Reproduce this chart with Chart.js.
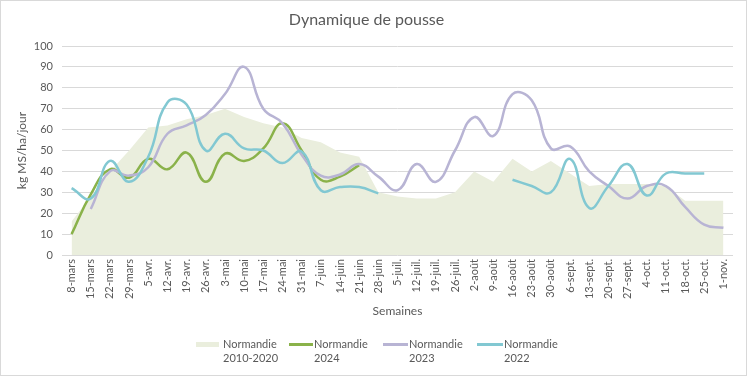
<!DOCTYPE html>
<html><head><meta charset="utf-8">
<script src="https://cdn.jsdelivr.net/npm/chart.js@4"></script>
<style>
html,body{margin:0;padding:0;background:#fff;}
#wrap{position:relative;width:747px;height:376px;overflow:hidden;font-family:Lato,"Open Sans",sans-serif;background:#fff;}
#c{position:absolute;left:0;top:0;}
#frame{position:absolute;left:0;top:0;width:747px;height:376px;box-sizing:border-box;border:1px solid #d9d9d9;pointer-events:none;}
.sw{position:absolute;}
.txt{position:absolute;top:337px;line-height:14px;font-size:11px;color:#595959;white-space:nowrap;}
</style></head>
<body>
<div id="wrap">
<canvas id="c" width="747" height="376"></canvas>
<div id="legend"></div>
<div id="frame"></div>
</div>
<script>
const categories = ['8-mars','15-mars','22-mars','29-mars','5-avr.','12-avr.','19-avr.','26-avr.','3-mai','10-mai','17-mai','24-mai','31-mai','7-juin','14-juin','21-juin','28-juin','5-juil.','12-juil.','19-juil.','26-juil.','2-août','9-août','16-août','23-août','30-août','6-sept.','13-sept.','20-sept.','27-sept.','4-oct.','11-oct.','18-oct.','25-oct.','1-nov.'];

const normandie2010_2020 = [16,28,40,50,61,62,65,67,70,66,63,61,56,54,49,47,30,28,27,27,30,40,35,46,40,45,39,33,34,34,34,33,26,26,26];
const normandie2024 = [10,29,41,37,46,41,49,35,48.5,45,51,63,50,36,37.5,43,null,null,null,null,null,null,null,null,null,null,null,null,null,null,null,null,null,null,null];
const normandie2023 = [null,22,40,38,42,58,62,67,77,90,70,63,48,38,38.5,43.5,37.5,31,43.5,35,50,66,57,77,74,51,52,40,33,27,33,33,23,14.5,13];
const normandie2022 = [32,27,45,35,47,73,72,50,58,51,50,44,49.5,31,32.5,32.5,29.5,null,null,null,null,null,null,36,33,30,46,22.5,33,43.5,28.5,39,39,39,null];

const yTicks = [0,10,20,30,40,50,60,70,80,90,100];
const seriesNames = [['Normandie','2010-2020'],['Normandie','2024'],['Normandie','2023'],['Normandie','2022']];

const colArea = '#eaeedd', colGreen = '#8ab24a', colPurple = '#b8b4d4', colTeal = '#82c8d2';
const FONT = 'Lato, "Open Sans", sans-serif';
const TXT = '#595959';

new Chart(document.getElementById('c'), {
  type: 'line',
  data: {
    labels: categories,
    datasets: [
      {label: seriesNames[0].join(' '), data: normandie2010_2020, backgroundColor: colArea, borderWidth: 0, fill: 'origin', tension: 0, pointRadius: 0, order: 4},
      {label: seriesNames[1].join(' '), data: normandie2024, borderColor: colGreen, borderWidth: 2.5, fill: false, tension: 0.45, pointRadius: 0, spanGaps: false, order: 3},
      {label: seriesNames[2].join(' '), data: normandie2023, borderColor: colPurple, borderWidth: 2.5, fill: false, tension: 0.45, pointRadius: 0, spanGaps: false, order: 2},
      {label: seriesNames[3].join(' '), data: normandie2022, borderColor: colTeal, borderWidth: 2.5, fill: false, tension: 0.45, pointRadius: 0, spanGaps: false, order: 1}
    ]
  },
  options: {
    responsive: false,
    animation: false,
    devicePixelRatio: 1,
    layout: {padding: {left: 0, right: 14, top: 0, bottom: 54}},
    plugins: {
      legend: {display: false},
      tooltip: {enabled: false},
      title: {display: true, text: 'Dynamique de pousse', color: TXT, font: {family: FONT, size: 16, weight: 'normal', lineHeight: 1.2}, padding: {top: 10, bottom: 16.8}}
    },
    scales: {
      x: {
        offset: true,
        grid: {display: false, drawTicks: false},
        border: {display: false},
        ticks: {autoSkip: false, minRotation: 90, maxRotation: 90, padding: 4, color: TXT, font: {family: FONT, size: 11}},
        title: {display: true, text: 'Semaines', color: TXT, font: {family: FONT, size: 12}, padding: {top: 0, bottom: 4}},
        afterFit: s => { s.height = 67; }
      },
      y: {
        min: 0, max: 100,
        afterBuildTicks: s => { s.ticks = yTicks.map(v => ({value: v})); },
        grid: {color: '#d9d9d9', lineWidth: 1, drawTicks: false},
        border: {display: false},
        ticks: {padding: 9, color: TXT, font: {family: FONT, size: 11}},
        title: {display: true, text: 'kg MS/ha/jour', color: TXT, font: {family: FONT, size: 12}, padding: {top: 15, bottom: 0}},
        afterFit: s => { s.width = 62; }
      }
    }
  }
});

// HTML legend
const legendDefs = [
  {sw: {left: 196, top: 342, width: 23, height: 5, bg: colArea}, tx: 223},
  {sw: {left: 289, top: 343, width: 24, height: 2.5, bg: colGreen}, tx: 314},
  {sw: {left: 383, top: 343, width: 25, height: 2.5, bg: colPurple}, tx: 409},
  {sw: {left: 477, top: 343, width: 26, height: 2.5, bg: colTeal}, tx: 504}
];
const lg = document.getElementById('legend');
legendDefs.forEach((d, i) => {
  const s = document.createElement('div');
  s.className = 'sw';
  s.style.left = d.sw.left + 'px'; s.style.top = d.sw.top + 'px';
  s.style.width = d.sw.width + 'px'; s.style.height = d.sw.height + 'px';
  s.style.background = d.sw.bg;
  lg.appendChild(s);
  const t = document.createElement('div');
  t.className = 'txt';
  t.style.left = d.tx + 'px';
  t.innerHTML = seriesNames[i][0] + '<br>' + seriesNames[i][1];
  lg.appendChild(t);
});
</script>
</body></html>
